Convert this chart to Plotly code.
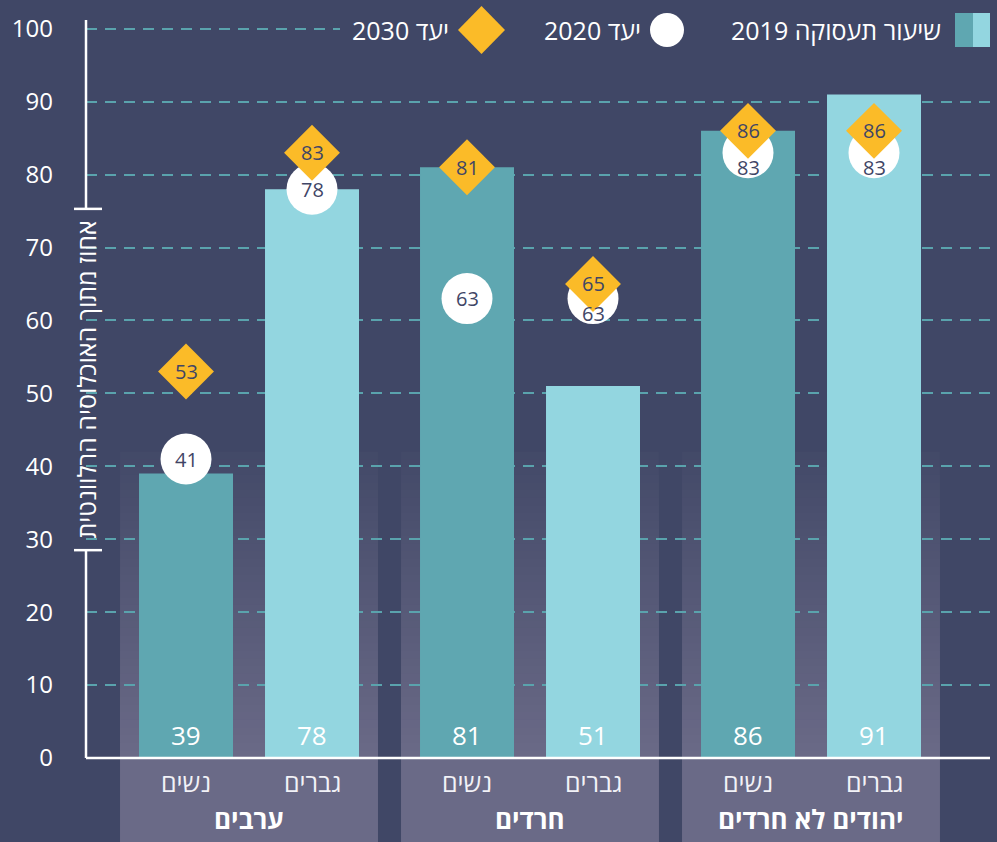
import plotly.graph_objects as go

# ---------------- data ----------------
groups = ["ערבים", "חרדים", "יהודים לא חרדים"]
sexes = ["נשים", "גברים"]            # women (left), men (right)
women_2019 = [39, 81, 86]
men_2019 = [78, 51, 91]
women_2020 = [41, 63, 83]
men_2020 = [78, 63, 83]
women_2030 = [53, 81, 86]
men_2030 = [83, 65, 86]
y_ticks = [0, 10, 20, 30, 40, 50, 60, 70, 80, 90, 100]
legend_labels = ["2019 שיעור תעסוקה", "2020 יעד", "2030 יעד"]
y_title = "אחוז מתוך האוכלוסיה הרלוונטית"

# ---------------- style ----------------
BG = "#404766"
WOMEN_C = "#5fa7b1"
MEN_C = "#93d6e0"
GOLD = "#fbbb28"
GRID_C = "#5aa3ad"
PANEL_C = "#6a6a87"
DARK_TXT = "#3f4566"
FONT = "Open Sans, DejaVu Sans, sans-serif"

W, H = 997, 842
ML, MR, MT, MB = 86, 7, 20, 0
YMIN, YMAX = -11.52, 101.2
XMIN, XMAX = -0.5801, 2.637
OFF = 0.2242
BAR_W = 0.3345
PANEL_HALF = 0.459

pw = W - ML - MR
ph = H - MT - MB


def px_x(px):
    return (px - ML) / pw


def px_y(py):
    return (H - MB - py) / ph


gi = list(range(len(groups)))
xw = [g - OFF for g in gi]
xm = [g + OFF for g in gi]

fig = go.Figure()

fig.add_trace(go.Bar(x=xw, y=women_2019, width=BAR_W, marker=dict(color=WOMEN_C, line=dict(width=0)),
                     showlegend=False, hoverinfo="skip"))
fig.add_trace(go.Bar(x=xm, y=men_2019, width=BAR_W, marker=dict(color=MEN_C, line=dict(width=0)),
                     showlegend=False, hoverinfo="skip"))

all_x = xw + xm
all_2020 = women_2020 + men_2020
all_2030 = women_2030 + men_2030
all_2019 = women_2019 + men_2019

fig.add_trace(go.Scatter(x=all_x, y=all_2020, mode="markers",
                         marker=dict(symbol="circle", size=51, color="white", line=dict(width=0)),
                         showlegend=False, hoverinfo="skip", cliponaxis=False))
fig.add_trace(go.Scatter(x=all_x, y=all_2030, mode="markers",
                         marker=dict(symbol="diamond", size=43, color=GOLD, line=dict(width=0)),
                         showlegend=False, hoverinfo="skip", cliponaxis=False))

shapes = []


def hex2rgb(h):
    h = h.lstrip("#")
    return tuple(int(h[i:i + 2], 16) for i in (0, 2, 4))


bg_rgb = hex2rgb(BG)
pn_rgb = hex2rgb(PANEL_C)
GRAD_TOP = 42
N = 40
for g in gi:
    x0, x1 = g - PANEL_HALF, g + PANEL_HALF
    shapes.append(dict(type="rect", xref="x", yref="y", x0=x0, x1=x1, y0=YMIN, y1=0,
                       fillcolor=PANEL_C, line=dict(width=0), layer="below"))
    for k in range(N):
        top = GRAD_TOP * (1 - k / N)
        t = 0.06 + 0.94 * (k + 0.5) / N
        c = tuple(round(bg_rgb[i] + (pn_rgb[i] - bg_rgb[i]) * t) for i in range(3))
        shapes.append(dict(type="rect", xref="x", yref="y", x0=x0, x1=x1, y0=-0.2, y1=top,
                           fillcolor="rgb(%d,%d,%d)" % c, line=dict(width=0), layer="below"))

# x axis line
shapes.append(dict(type="line", xref="paper", yref="y", x0=0, x1=px_x(990), y0=0, y1=0,
                   line=dict(color="white", width=2.5), layer="above"))
# y axis line with gap for the title
Y_GAP_LO, Y_GAP_HI = 28.5, 75.3
shapes.append(dict(type="line", xref="paper", yref="y", x0=0, x1=0, y0=0, y1=Y_GAP_LO,
                   line=dict(color="white", width=2.5), layer="above"))
shapes.append(dict(type="line", xref="paper", yref="y", x0=0, x1=0, y0=Y_GAP_HI, y1=YMAX,
                   line=dict(color="white", width=2.5), layer="above"))
for yy in (Y_GAP_LO, Y_GAP_HI):
    shapes.append(dict(type="line", xref="paper", yref="y", x0=px_x(74), x1=px_x(102), y0=yy, y1=yy,
                       line=dict(color="white", width=2.5), layer="above"))

# legend background (covers the top gridline) and icons
shapes.append(dict(type="rect", xref="paper", yref="paper", x0=px_x(340), x1=px_x(997),
                   y0=px_y(50), y1=px_y(10), fillcolor=BG, line=dict(width=0), layer="above"))
shapes.append(dict(type="rect", xref="paper", yref="paper", x0=px_x(955), x1=px_x(973),
                   y0=px_y(47), y1=px_y(13), fillcolor=WOMEN_C, line=dict(width=0), layer="above"))
shapes.append(dict(type="rect", xref="paper", yref="paper", x0=px_x(973), x1=px_x(990),
                   y0=px_y(47), y1=px_y(13), fillcolor=MEN_C, line=dict(width=0), layer="above"))
shapes.append(dict(type="circle", xref="paper", yref="paper", x0=px_x(650), x1=px_x(684),
                   y0=px_y(47), y1=px_y(13), fillcolor="white", line=dict(width=0), layer="above"))
dpath = "M %f,%f L %f,%f L %f,%f L %f,%f Z" % (
    px_x(458), px_y(30), px_x(481.5), px_y(6), px_x(505), px_y(30), px_x(481.5), px_y(54))
shapes.append(dict(type="path", xref="paper", yref="paper", path=dpath,
                   fillcolor=GOLD, line=dict(width=0), layer="above"))

ann = []
# legend texts
for txt, rx in zip(legend_labels, [943, 643, 451]):
    ann.append(dict(xref="paper", yref="paper", x=px_x(rx), y=px_y(30), text=txt, showarrow=False,
                    xanchor="right", yanchor="middle", font=dict(family=FONT, size=25, color="white")))

# y axis title
ann.append(dict(xref="paper", yref="y", x=0, y=(Y_GAP_LO + Y_GAP_HI) / 2, text=y_title, textangle=-90,
                showarrow=False, xanchor="center", yanchor="middle",
                font=dict(family=FONT, size=25, color="white")))

# bar values
for x, v in zip(all_x, all_2019):
    ann.append(dict(x=x, y=3.15, text=str(v), showarrow=False, xanchor="center", yanchor="middle",
                    font=dict(family=FONT, size=26, color="white")))

# target labels
for x, c, d in zip(all_x, all_2020, all_2030):
    shift = -15 if abs(d - c) < 5 else 0
    ann.append(dict(x=x, y=c, yshift=shift, text=str(c), showarrow=False, xanchor="center",
                    yanchor="middle", font=dict(family=FONT, size=20, color=DARK_TXT)))
    ann.append(dict(x=x, y=d, text=str(d), showarrow=False, xanchor="center",
                    yanchor="middle", font=dict(family=FONT, size=20, color=DARK_TXT)))

# category and group labels
for g in gi:
    ann.append(dict(x=xw[g], y=-3.3, text=sexes[0], showarrow=False, xanchor="center", yanchor="middle",
                    font=dict(family=FONT, size=25, color="#f2f2f7")))
    ann.append(dict(x=xm[g], y=-3.3, text=sexes[1], showarrow=False, xanchor="center", yanchor="middle",
                    font=dict(family=FONT, size=25, color="#f2f2f7")))
    ann.append(dict(x=g, y=-8.3, text="<b>%s</b>" % groups[g], showarrow=False, xanchor="center",
                    yanchor="middle", font=dict(family=FONT, size=26, color="white")))

fig.update_layout(
    width=W, height=H,
    margin=dict(l=ML, r=MR, t=MT, b=MB, pad=0),
    paper_bgcolor=BG, plot_bgcolor=BG,
    showlegend=False,
    barmode="overlay",
    shapes=shapes,
    annotations=ann,
    xaxis=dict(range=[XMIN, XMAX], showgrid=False, zeroline=False, showticklabels=False,
               showline=False, ticks="", fixedrange=True),
    yaxis=dict(range=[YMIN, YMAX], tickvals=y_ticks, ticktext=[str(t) for t in y_ticks],
               showgrid=True, gridcolor=GRID_C, gridwidth=2, griddash="11px,8px",
               zeroline=False, showline=False, ticks="", ticklabelstandoff=32,
               tickfont=dict(family=FONT, size=24, color="white"), fixedrange=True),
)

fig.write_html("out.html", config={"displayModeBar": False},
               post_script="document.body.style.margin='0';document.body.style.background='%s';" % BG)
